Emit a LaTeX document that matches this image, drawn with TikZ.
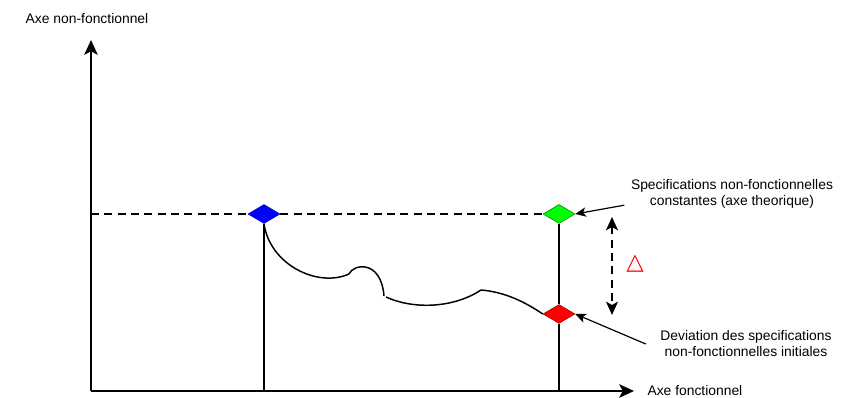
\documentclass[tikz,border=0pt]{standalone}
\usepackage{fontspec}
\setmainfont{Liberation Sans}
\newfontfamily\symboles{DejaVu Sans}
\usetikzlibrary{positioning}
\usetikzlibrary{calc}
\usetikzlibrary{arrows.meta}
\usetikzlibrary{shapes.geometric}

\begin{document}
\begin{tikzpicture}[x=0.75pt,y=-0.75pt,
    every node/.style={font=\fontsize{10.4}{12}\selectfont},
    losange/.style={diamond,inner sep=0pt,minimum width=32*0.75pt,minimum height=19*0.75pt},
    axe/.style={line width=1.6pt,-{Stealth[length=11pt,width=10pt,inset=2.5pt]}},
    fleche/.style={line width=0.9pt,-{Stealth[length=8pt,width=7pt,inset=2pt]}},
    tirets/.style={line width=1.3pt,dash pattern=on 6pt off 4pt},
    courbe/.style={line width=1.1pt}]
							\useasboundingbox (0,0) rectangle (860,398);
							% axes
							\coordinate (O) at (91,391);
							\coordinate (Yhaut) at (91,40);
							\coordinate (Xfin) at (634,391);
							\coordinate (Ytir) at (91,214);
							\draw[axe] (O) -- (Yhaut);
							\draw[axe] (O) -- (Xfin) node[right=6pt] (axeX) {Axe fonctionnel};
							\node (axeY) at (87,19) {Axe non-fonctionnel};
	
							% points de specification
							\node[losange,fill=blue,draw=blue!70!black] (bleu) at (264,214) {};
							\node[losange,fill=green,draw=green!50!black] (vert) at (559,214) {};
							\node[losange,fill=red,draw=red!60!black] (rouge) at (559,314) {};
							\coordinate (piedB) at (264,391);
							\coordinate (piedV) at (559,391);
							\draw[tirets] (Ytir) -- (bleu.west) (bleu.east) -- (vert.west);
							\draw[line width=1.1pt] (bleu.south) -- (piedB);
							\draw[line width=1.1pt] (vert.south) -- (rouge.north);
							\draw[line width=1.1pt] (rouge.south) -- (piedV);
	
							% deviation
							\draw[courbe] (bleu.south) .. controls (270,265) and (318,288) .. (349,274);
							\draw[courbe] (349,274) .. controls (353,264) and (381,259) .. (384,296);
							\draw[courbe] (386,297) .. controls (412,309) and (452,309) .. (481,290);
							\draw[courbe] (481,290) .. controls (505,292) and (525,302) .. (rouge.west);
	
							% ecart
							\coordinate (deltaH) at (612,217);
							\coordinate (deltaB) at (612,315);
							\draw[tirets,{Stealth[length=10pt,width=9pt,inset=2.5pt]}-{Stealth[length=10pt,width=9pt,inset=2.5pt]}] (deltaH) -- (deltaB);
							\node[text=red,font=\symboles\bfseries\fontsize{17}{17}\selectfont] (delta) at (635,264) {△};
	
							% legendes
							\node[align=center] (legV) at (732,194) {Specifications non-fonctionnelles\\constantes (axe theorique)};
							\node[align=center] (legR) at (746,344) {Deviation des specifications\\non-fonctionnelles initiales};
							\draw[fleche] (legV.south west) ++(-2,-8) -- (vert.east);
							\draw[fleche] ($(legR.west)+(-10,0)$) -- (rouge.east);
						\end{tikzpicture}
\end{document}
